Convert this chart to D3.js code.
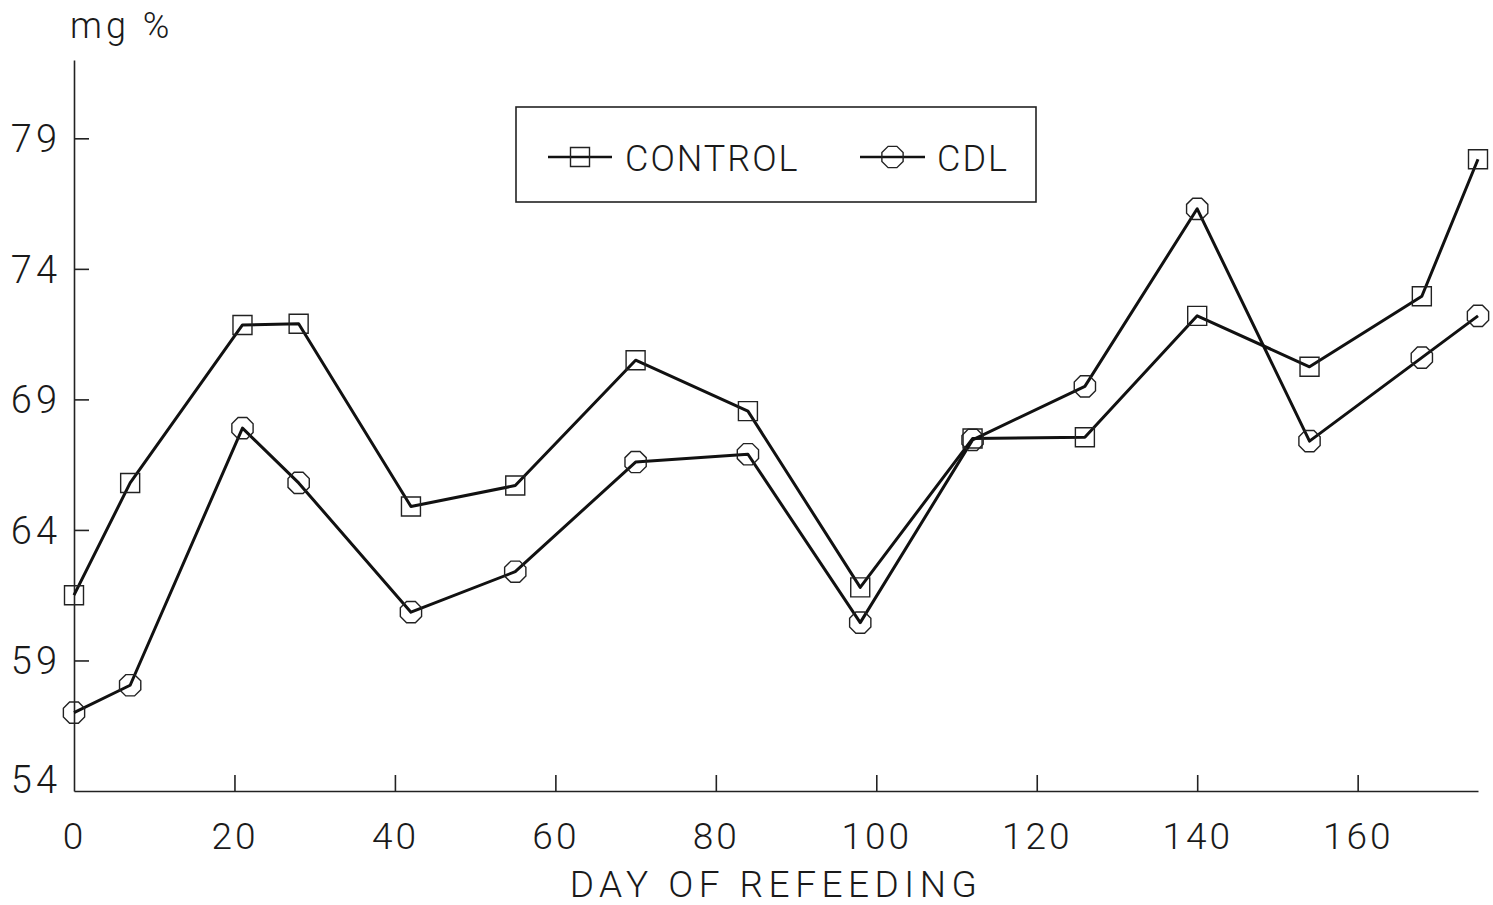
<!DOCTYPE html>
<html lang="en">
<head>
<meta charset="UTF-8">
<title>mg % by day of refeeding</title>
<style>
  body { margin: 0; background: #fff; }
  svg text { font-family: Roboto, "Liberation Sans", Arial, sans-serif; font-weight: 300; fill: #1a1a1a; }
</style>
</head>
<body>
<div class="chart"></div>
<script src="https://d3js.org/d3.v7.min.js"></script>
<script>
// data
var days = [0, 7, 21, 28, 42, 55, 70, 84, 98, 112, 126, 140, 154, 168, 175];
var control = [61.5, 65.8, 71.85, 71.9, 64.9, 65.7, 70.5, 68.55, 61.8, 67.5, 67.55, 72.2, 70.25, 72.95, 78.2];
var cdl = [57.0, 58.05, 67.9, 65.8, 60.85, 62.4, 66.6, 66.9, 60.45, 67.45, 69.5, 76.3, 67.4, 70.6, 72.2];
var xTicks = [0, 20, 40, 60, 80, 100, 120, 140, 160];
var yTicks = [54, 59, 64, 69, 74, 79];

var width = 1493, height = 905;

var svg = d3.select(".chart").append("svg")
    .attr("width", width)
    .attr("height", height);

var x = d3.scaleLinear().domain([0, 175]).range([74, 1478]);
var y = d3.scaleLinear().domain([54, 82]).range([791, 60]);

// x axis, ticks point up into the plot
var xAxis = svg.append("g")
    .attr("transform", "translate(0," + y(54) + ")")
    .call(d3.axisBottom(x).tickValues(xTicks).tickSizeInner(-16).tickSizeOuter(0).tickPadding(32));
xAxis.attr("font-family", null);
xAxis.select(".domain").attr("stroke", "#222").attr("stroke-width", 1.6);
xAxis.selectAll(".tick line").attr("stroke", "#222").attr("stroke-width", 1.6)
    .attr("display", function(d) { return d === 0 ? "none" : null; });
xAxis.selectAll(".tick text").attr("font-size", 37).attr("letter-spacing", 3).attr("fill", "#1a1a1a");

// y axis, ticks point right
var yAxis = svg.append("g")
    .attr("transform", "translate(" + x(0) + ",0)")
    .call(d3.axisLeft(y).tickValues(yTicks).tickSizeInner(-15).tickSizeOuter(0).tickPadding(13));
yAxis.attr("font-family", null);
yAxis.select(".domain").attr("stroke", "#222").attr("stroke-width", 1.6);
yAxis.selectAll(".tick line").attr("stroke", "#222").attr("stroke-width", 1.6)
    .attr("display", function(d) { return d === 54 ? "none" : null; });
yAxis.selectAll(".tick text").attr("font-size", 38).attr("letter-spacing", 4).attr("fill", "#1a1a1a")
    .attr("dy", function(d) { return d === 54 ? "0.05em" : "0.35em"; });

svg.append("text")
    .attr("x", 70).attr("y", 38)
    .attr("font-size", 36).attr("letter-spacing", 4)
    .text("mg %");

svg.append("text")
    .attr("x", (x(0) + x(175)) / 2).attr("y", 897)
    .attr("text-anchor", "middle")
    .attr("font-size", 37).attr("letter-spacing", 5.5)
    .text("DAY OF REFEEDING");

// markers
var sq = 9.5;
function squarePath(s) {
    return "M" + (-s) + "," + (-s) + "h" + (2 * s) + "v" + (2 * s) + "h" + (-2 * s) + "Z";
}
function octagon(r) {
    var pts = d3.range(8).map(function(i) {
        var a = Math.PI / 8 + i * Math.PI / 4;
        return [r * Math.cos(a), r * Math.sin(a)];
    });
    return "M" + pts.join("L") + "Z";
}

var line = d3.line()
    .x(function(d) { return x(d[0]); })
    .y(function(d) { return y(d[1]); });

function drawSeries(vals, shape) {
    var pts = days.map(function(d, i) { return [d, vals[i]]; });
    var g = svg.append("g");
    g.append("path")
        .attr("d", line(pts))
        .attr("fill", "none")
        .attr("stroke", "#111")
        .attr("stroke-width", 3)
        .attr("stroke-linejoin", "round");
    g.selectAll(".m").data(pts).enter().append("path")
        .attr("transform", function(d) { return "translate(" + x(d[0]) + "," + y(d[1]) + ")"; })
        .attr("d", shape === "square" ? squarePath(sq) : octagon(11.5))
        .attr("fill", "none")
        .attr("stroke", "#222")
        .attr("stroke-width", 1.4);
}
drawSeries(control, "square");
drawSeries(cdl, "octagon");

// legend
var lg = svg.append("g");
lg.append("rect")
    .attr("x", 516).attr("y", 107).attr("width", 520).attr("height", 95)
    .attr("fill", "#fff").attr("stroke", "#222").attr("stroke-width", 1.6);
var legendItems = [
    { label: "CONTROL", shape: "square", x0: 548, x1: 612, tx: 625 },
    { label: "CDL", shape: "octagon", x0: 860, x1: 925, tx: 937 }
];
legendItems.forEach(function(it) {
    var cy = 157, cx = (it.x0 + it.x1) / 2;
    lg.append("line")
        .attr("x1", it.x0).attr("x2", it.x1).attr("y1", cy).attr("y2", cy)
        .attr("stroke", "#111").attr("stroke-width", 2.6);
    lg.append("path")
        .attr("transform", "translate(" + cx + "," + cy + ")")
        .attr("d", it.shape === "square" ? squarePath(sq) : octagon(11.5))
        .attr("fill", "none").attr("stroke", "#222").attr("stroke-width", 1.4);
    lg.append("text")
        .attr("x", it.tx).attr("y", cy + 14)
        .attr("font-size", 36).attr("letter-spacing", 2)
        .text(it.label);
});
</script>
</body>
</html>
